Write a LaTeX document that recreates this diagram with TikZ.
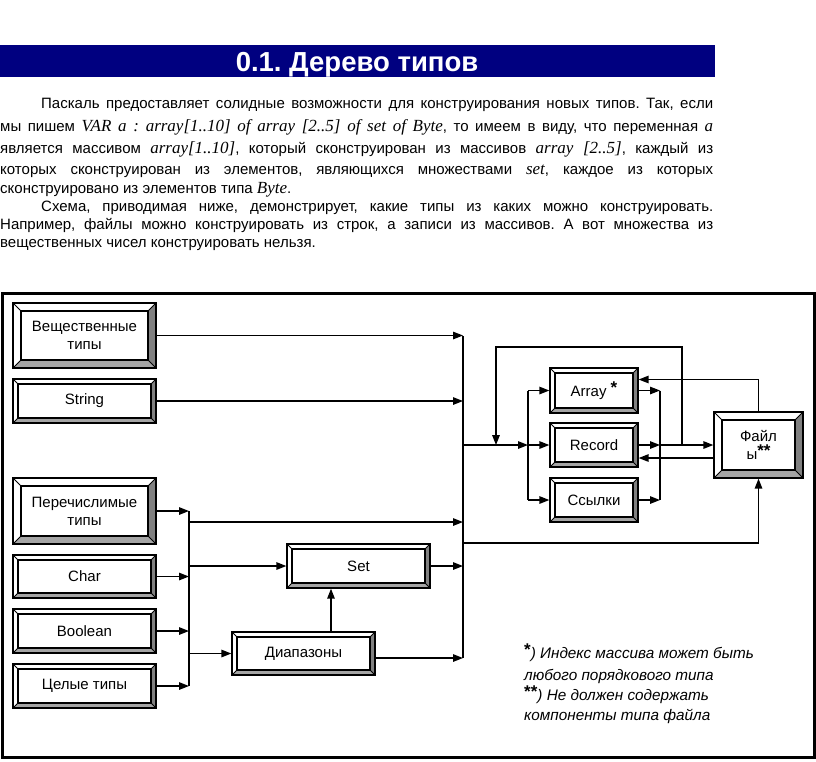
\documentclass[tikz,border=0pt]{standalone}
\usepackage{fontspec}
\setmainfont{Liberation Sans}
\newfontfamily\tnr{Liberation Serif}
\usetikzlibrary{arrows.meta,calc}
\definecolor{navy}{RGB}{0,0,128}
\definecolor{bevR}{RGB}{128,128,128}
\definecolor{bevB}{RGB}{165,165,165}
\frenchspacing
\newcommand\pit[1]{{\tnr\itshape\fontsize{17}{17}\selectfont #1}}
\newcommand\starmark[1]{\raisebox{3pt}{\upshape\bfseries\fontsize{17}{17}\selectfont #1}}
\tikzset{
  conn/.style={line width=1.4pt},
  arr/.style={conn,-{Triangle[length=10pt,width=7.5pt]}},
  bev/.store in=\bevw, bev=5pt,
  bevbox/.style={draw, line width=1.3pt, fill=white, inner sep=0pt, align=center,
    font=\fontsize{15}{18}\selectfont,
    path picture={
      \path (path picture bounding box.north west) coordinate (q1)
            (path picture bounding box.south east) coordinate (q3);
      \path ([xshift=\bevw,yshift=-\bevw]q1) coordinate (r1)
            ([xshift=-\bevw,yshift=\bevw]q3) coordinate (r3);
      \fill[bevR] (q1 -| q3) -- (q3) -- (r3) -- (r1 -| r3) -- cycle;
      \fill[bevB] (q1 |- q3) -- (q3) -- (r3) -- (r1 |- r3) -- cycle;
      \draw[line width=1.1pt] (r1) rectangle (r3);
      \draw[line width=0.8pt] (q1) -- (r1) (q1 -| q3) -- (r1 -| r3)
            (q3) -- (r3) (q1 |- q3) -- (r1 |- r3);
    }},
  pline/.style={anchor=base west, inner sep=0pt, font=\fontsize{15}{17}\selectfont},
  fnote/.style={anchor=base west, inner sep=0pt, font=\itshape\fontsize{15.3}{17}\selectfont},
}
\begin{document}
\begin{tikzpicture}[x=1pt,y=-1pt]
\useasboundingbox (0,0) rectangle (816,761);
\fill[white] (0,0) rectangle (816,761);
% title
\fill[navy] (0,45) rectangle (715,77);
\node[anchor=base, inner sep=0pt, text=white, font=\bfseries\fontsize{27.5}{29}\selectfont] (title) at (357,71) {0.1. Дерево типов};
% paragraph
\node[pline] (p1) at (41,108) {\makebox[672pt][s]{Паскаль предоставляет солидные возможности для конструирования новых типов. Так, если}};
\node[pline] (p2) at (0,131) {\makebox[713pt][s]{мы пишем \pit{VAR a : array[1..10] of array [2..5] of set of Byte}, то имеем в виду, что переменная \pit{a}}};
\node[pline] (p3) at (0,153) {\makebox[713pt][s]{является массивом \pit{array[1..10]}, который сконструирован из массивов \pit{array [2..5]}, каждый из}};
\node[pline] (p4) at (0,174) {\makebox[713pt][s]{которых сконструирован из элементов, являющихся множествами \pit{set}, каждое из которых}};
\node[pline] (p5) at (0,193) {сконструировано из элементов типа \pit{Byte}.};
\node[pline] (p6) at (41,211) {\makebox[672pt][s]{Схема, приводимая ниже, демонстрирует, какие типы из каких можно конструировать.}};
\node[pline] (p7) at (0,229) {\makebox[713pt][s]{Например, файлы можно конструировать из строк, а записи из массивов. А вот множества из}};
\node[pline] (p8) at (0,247) {вещественных чисел конструировать нельзя.};
% frame
\draw[line width=3pt] (2,293) rectangle (814,757);
% boxes
\node[bevbox, bev=8pt, minimum width=143pt, minimum height=65pt] (real) at (84.5,335.5) {Вещественные\\типы};
\node[bevbox, minimum width=143pt, minimum height=44pt] (str) at (84.5,401) {String};
\node[bevbox, bev=8pt, minimum width=143pt, minimum height=66pt] (enum) at (84.5,511) {Перечислимые\\типы};
\node[bevbox, minimum width=143pt, minimum height=43pt] (char) at (84.5,576.5) {Char};
\node[bevbox, minimum width=143pt, minimum height=44pt] (bool) at (84.5,631) {Boolean};
\node[bevbox, minimum width=143pt, minimum height=44pt] (int) at (84.5,686) {Целые типы};
\node[bevbox, minimum width=143pt, minimum height=44pt] (set) at (358.5,566) {Set};
\node[bevbox, minimum width=143pt, minimum height=43pt] (range) at (303.5,653.5) {Диапазоны};
\node[bevbox, minimum width=88pt, minimum height=45pt] (array) at (594,390.5) {Array \starmark{*}};
\node[bevbox, minimum width=88pt, minimum height=44pt] (record) at (594,445) {Record};
\node[bevbox, minimum width=88pt, minimum height=44pt] (links) at (594,500) {Ссылки};
\node[bevbox, bev=8pt, minimum width=89pt, minimum height=66pt] (files) at (758.5,445) {Файл\\ы\starmark{**}};
% bus coordinates
\coordinate (bA) at (463,336);
\coordinate (bAb) at (463,658);
\coordinate (bB) at (189,511);
\coordinate (bBb) at (189,686);
\coordinate (bC) at (528,390.5);
\coordinate (bCb) at (528,500);
\coordinate (bD) at (660,390.5);
\coordinate (bDb) at (660,500);
\coordinate (jm) at (463,445);
\coordinate (e1) at (189,522);
\coordinate (lp1) at (682,445);
\coordinate (lp2) at (496,347);
\coordinate (fb) at (463,543);
% connectors
\draw[conn] (bA) -- (bAb);
\draw[arr] (real) -- (real -| bA);
\draw[arr] (str) -- (str -| bA);
\draw[conn] (bB) -- (bBb);
\draw[arr] (enum) -- (enum -| bB);
\draw[arr] (char) -- (char -| bB);
\draw[arr] (bool) -- (bool -| bB);
\draw[arr] (int) -- (int -| bB);
\draw[arr] (e1) -- (e1 -| bA);
\draw[arr] (set -| bB) -- (set);
\draw[arr] (range -| bB) -- (range);
\draw[arr] ([xshift=27.5pt]range.north) -- ([xshift=27.5pt]range.north |- set.south);
\draw[arr] ([yshift=-4.5pt]range.east) -- ([yshift=-4.5pt]range.east -| bA);
\draw[arr] (set) -- (set -| bA);
\draw[arr] (jm) -- (jm -| bC);
\draw[conn] (bC) -- (bCb);
\draw[arr] (array -| bC) -- (array);
\draw[arr] (record -| bC) -- (record);
\draw[arr] (links -| bC) -- (links);
\draw[arr] (array) -- (array -| bD);
\draw[arr] (record) -- (record -| bD);
\draw[arr] (links) -- (links -| bD);
\draw[conn] (bD) -- (bDb);
\draw[arr] (record -| bD) -- (files);
\draw[arr] (lp1) |- (lp2) -- (lp2 |- jm);
\draw[arr] (files.north) |- ([yshift=11pt]array.east);
\draw[arr] ([yshift=-13pt]files.west) -- ([yshift=-13pt]files.west -| record.east);
\draw[arr] (fb) -| (files.south);
% footnotes
\node[fnote] (fn1) at (524,658) {\starmark{*}) Индекс массива может быть};
\node[fnote] (fn2) at (524,680) {любого порядкового типа};
\node[fnote] (fn3) at (524,700) {\starmark{**}) Не должен содержать};
\node[fnote] (fn4) at (524,720) {компоненты типа файла};
\end{tikzpicture}
\end{document}
